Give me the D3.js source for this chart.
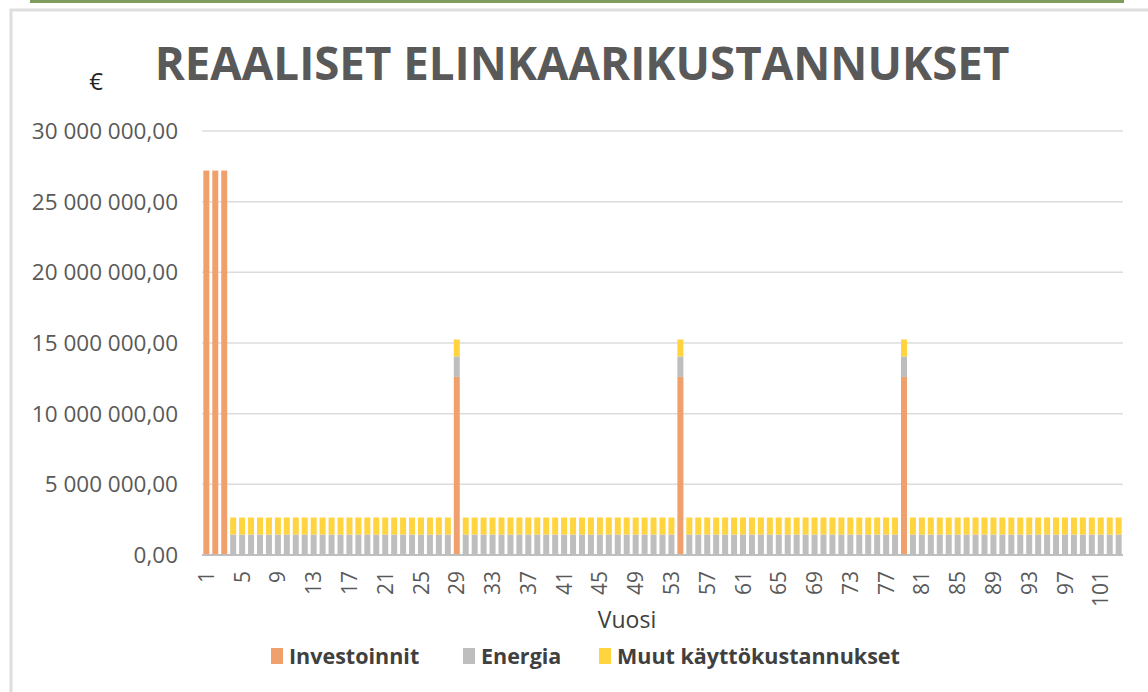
<!DOCTYPE html>
<html>
<head>
<meta charset="utf-8">
<script src="https://cdn.jsdelivr.net/npm/d3@7"></script>
<style>
  body { margin: 0; background: #fff; }
  svg text { font-family: "Open Sans", "DejaVu Sans", sans-serif; }
</style>
</head>
<body>
<svg id="chart" width="1148" height="692"></svg>
<script>
// years 1..103 as category labels
const years = [
  1,2,3,4,5,6,7,8,9,10,11,12,13,14,15,16,17,18,19,20,
  21,22,23,24,25,26,27,28,29,30,31,32,33,34,35,36,37,38,39,40,
  41,42,43,44,45,46,47,48,49,50,51,52,53,54,55,56,57,58,59,60,
  61,62,63,64,65,66,67,68,69,70,71,72,73,74,75,76,77,78,79,80,
  81,82,83,84,85,86,87,88,89,90,91,92,93,94,95,96,97,98,99,100,
  101,102,103
]

// euro values
const investoinnit = [
  27.2e6,27.2e6,27.2e6,0,0,0,0,0,0,0,0,0,0,0,0,0,0,0,0,0,
  0,0,0,0,0,0,0,0,12.6e6,0,0,0,0,0,0,0,0,0,0,0,
  0,0,0,0,0,0,0,0,0,0,0,0,0,12.6e6,0,0,0,0,0,0,
  0,0,0,0,0,0,0,0,0,0,0,0,0,0,0,0,0,0,12.6e6,0,
  0,0,0,0,0,0,0,0,0,0,0,0,0,0,0,0,0,0,0,0,
  0,0,0
]
const energia = [
  0,0,0,1.45e6,1.45e6,1.45e6,1.45e6,1.45e6,1.45e6,1.45e6,1.45e6,1.45e6,1.45e6,1.45e6,1.45e6,1.45e6,1.45e6,1.45e6,1.45e6,1.45e6,
  1.45e6,1.45e6,1.45e6,1.45e6,1.45e6,1.45e6,1.45e6,1.45e6,1.45e6,1.45e6,1.45e6,1.45e6,1.45e6,1.45e6,1.45e6,1.45e6,1.45e6,1.45e6,1.45e6,1.45e6,
  1.45e6,1.45e6,1.45e6,1.45e6,1.45e6,1.45e6,1.45e6,1.45e6,1.45e6,1.45e6,1.45e6,1.45e6,1.45e6,1.45e6,1.45e6,1.45e6,1.45e6,1.45e6,1.45e6,1.45e6,
  1.45e6,1.45e6,1.45e6,1.45e6,1.45e6,1.45e6,1.45e6,1.45e6,1.45e6,1.45e6,1.45e6,1.45e6,1.45e6,1.45e6,1.45e6,1.45e6,1.45e6,1.45e6,1.45e6,1.45e6,
  1.45e6,1.45e6,1.45e6,1.45e6,1.45e6,1.45e6,1.45e6,1.45e6,1.45e6,1.45e6,1.45e6,1.45e6,1.45e6,1.45e6,1.45e6,1.45e6,1.45e6,1.45e6,1.45e6,1.45e6,
  1.45e6,1.45e6,1.45e6
]
const muut = [
  0,0,0,1.2e6,1.2e6,1.2e6,1.2e6,1.2e6,1.2e6,1.2e6,1.2e6,1.2e6,1.2e6,1.2e6,1.2e6,1.2e6,1.2e6,1.2e6,1.2e6,1.2e6,
  1.2e6,1.2e6,1.2e6,1.2e6,1.2e6,1.2e6,1.2e6,1.2e6,1.2e6,1.2e6,1.2e6,1.2e6,1.2e6,1.2e6,1.2e6,1.2e6,1.2e6,1.2e6,1.2e6,1.2e6,
  1.2e6,1.2e6,1.2e6,1.2e6,1.2e6,1.2e6,1.2e6,1.2e6,1.2e6,1.2e6,1.2e6,1.2e6,1.2e6,1.2e6,1.2e6,1.2e6,1.2e6,1.2e6,1.2e6,1.2e6,
  1.2e6,1.2e6,1.2e6,1.2e6,1.2e6,1.2e6,1.2e6,1.2e6,1.2e6,1.2e6,1.2e6,1.2e6,1.2e6,1.2e6,1.2e6,1.2e6,1.2e6,1.2e6,1.2e6,1.2e6,
  1.2e6,1.2e6,1.2e6,1.2e6,1.2e6,1.2e6,1.2e6,1.2e6,1.2e6,1.2e6,1.2e6,1.2e6,1.2e6,1.2e6,1.2e6,1.2e6,1.2e6,1.2e6,1.2e6,1.2e6,
  1.2e6,1.2e6,1.2e6
]

const seriesNames = ["Investoinnit", "Energia", "Muut käyttökustannukset"]
const seriesKeys = ["inv", "ene", "muu"]
const colors = ["#F0A06C", "#BEBEBE", "#FFD43E"]
const yTicks = [0, 5e6, 10e6, 15e6, 20e6, 25e6, 30e6]

const svg = d3.select("#chart")

// frame: green strip on top, light grey box
svg.append("rect").attr("x", 30).attr("y", 0).attr("width", 1094).attr("height", 3).attr("fill", "#7E9C5C")
svg.append("rect").attr("x", 11).attr("y", 10).attr("width", 1150).attr("height", 700)
    .attr("fill", "none").attr("stroke", "#dedede").attr("stroke-width", 3)

const plotLeft = 202, plotRight = 1123, plotTop = 131, plotBottom = 555

const x = d3.scaleBand().domain(years).range([plotLeft, plotRight]).paddingInner(0.33).paddingOuter(0.15)
const y = d3.scaleLinear().domain([0, 30e6]).range([plotBottom, plotTop])

// gridlines
svg.append("g").selectAll("line").data(yTicks.slice(1)).join("line")
    .attr("x1", plotLeft).attr("x2", plotRight)
    .attr("y1", d => y(d)).attr("y2", d => y(d))
    .attr("stroke", "#dcdcdc").attr("stroke-width", 1.5)

// y labels
const fmt = d => d3.format(",.2f")(d).replace(/,/g, " ").replace(".", ",")
svg.append("g").selectAll("text").data(yTicks).join("text")
    .attr("x", 178).attr("y", d => y(d)).attr("dy", "0.36em")
    .attr("text-anchor", "end").attr("font-size", 22.5).attr("fill", "#595959")
    .text(fmt)

// stacked bars
const table = years.map((yr, i) => ({year: yr, inv: investoinnit[i], ene: energia[i], muu: muut[i]}))
const stacked = d3.stack().keys(seriesKeys)(table)

svg.append("g").selectAll("g").data(stacked).join("g")
    .attr("fill", (d, i) => colors[i])
    .selectAll("rect").data(d => d).join("rect")
    .attr("x", d => x(d.data.year))
    .attr("width", x.bandwidth())
    .attr("y", d => y(d[1]))
    .attr("height", d => y(d[0]) - y(d[1]))

// bottom axis line
svg.append("line").attr("x1", plotLeft).attr("x2", plotRight).attr("y1", plotBottom).attr("y2", plotBottom)
    .attr("stroke", "#bfbfbf").attr("stroke-width", 2)

// x tick labels, every 4th year, rotated
const xTickYears = years.filter(v => (v - 1) % 4 === 0)
svg.append("g").selectAll("text").data(xTickYears).join("text")
    .attr("transform", d => `translate(${x(d) + x.bandwidth() / 2},571) rotate(-90)`)
    .attr("dy", "0.36em")
    .attr("text-anchor", "end").attr("font-size", 21).attr("fill", "#595959")
    .text(d => d)

// title
const title = svg.append("text").attr("x", 582).attr("y", 80).attr("text-anchor", "middle")
    .attr("font-size", 44).attr("font-weight", 700).attr("fill", "#595959")
    .text("REAALISET ELINKAARIKUSTANNUKSET")
const tw = title.node().getComputedTextLength()
title.attr("font-size", 44 * 855 / tw)

svg.append("text").attr("x", 96).attr("y", 90).attr("text-anchor", "middle")
    .attr("font-size", 24).attr("fill", "#222").text("€")

svg.append("text").attr("x", 627).attr("y", 628).attr("text-anchor", "middle")
    .attr("font-size", 23).attr("fill", "#404040").text("Vuosi")

// legend
const legendX = [271, 463, 599]
const leg = svg.append("g").selectAll("g").data(seriesNames).join("g")
    .attr("transform", (d, i) => `translate(${legendX[i]},656)`)
leg.append("rect").attr("x", 0).attr("y", -8).attr("width", 12).attr("height", 16)
    .attr("fill", (d, i) => colors[i])
leg.append("text").attr("x", 18).attr("dy", "0.36em").attr("font-size", 21.5).attr("font-weight", 700)
    .attr("fill", "#404040").text(d => d)
</script>
</body>
</html>
